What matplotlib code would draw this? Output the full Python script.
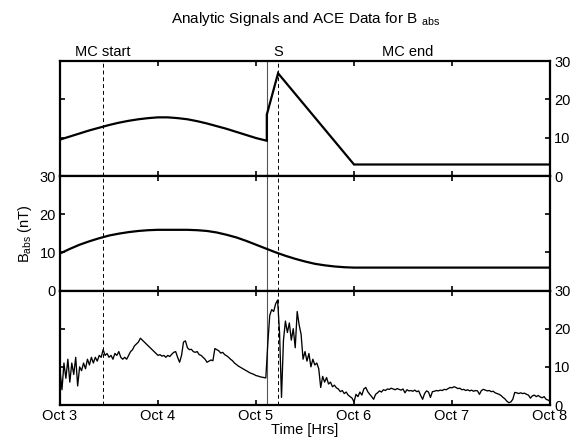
import numpy as np
import matplotlib
matplotlib.use("Agg")
import matplotlib.pyplot as plt

plt.rcParams['font.family'] = ['Liberation Sans', 'DejaVu Sans']
plt.rcParams['mathtext.fontset'] = 'custom'
plt.rcParams['mathtext.rm'] = 'Liberation Sans'
plt.rcParams['mathtext.it'] = 'Liberation Sans'

# ---------------- data (x in days of October) ----------------
day_ticks = [3, 4, 5, 6, 7, 8]
day_labels = ["Oct 3", "Oct 4", "Oct 5", "Oct 6", "Oct 7", "Oct 8"]
y_ticks = [0, 10, 20, 30]

mc_start = 3.435
shock_solid = 5.11
shock_dashed = 5.225
mc_end_label_x = 6.55

# top panel: analytic signal with shock
top_t = [3.0, 3.1, 3.2, 3.3, 3.4, 3.5, 3.6, 3.7, 3.8, 3.9, 4.0, 4.1, 4.2, 4.3,
         4.4, 4.5, 4.6, 4.7, 4.8, 4.9, 5.0, 5.11, 5.11, 5.225, 6.0, 8.0]
top_v = [9.5, 10.3, 11.1, 11.9, 12.6, 13.3, 13.9, 14.4, 14.8, 15.1, 15.3, 15.3,
         15.1, 14.8, 14.3, 13.7, 13.0, 12.3, 11.5, 10.7, 9.9, 9.2, 16.0, 26.8,
         3.0, 3.0]

# middle panel: smooth analytic signal
mid_t = [3.0, 3.1, 3.2, 3.3, 3.4, 3.5, 3.6, 3.7, 3.8, 3.9, 4.0, 4.1, 4.2, 4.3,
         4.4, 4.5, 4.6, 4.7, 4.8, 4.9, 5.0, 5.1, 5.2, 5.3, 5.4, 5.5, 5.6, 5.7,
         5.8, 5.9, 6.0, 8.0]
mid_v = [9.7, 10.9, 12.0, 12.9, 13.7, 14.4, 14.9, 15.3, 15.6, 15.8, 15.9, 15.9,
         15.9, 15.9, 15.8, 15.6, 15.2, 14.6, 13.9, 13.0, 12.0, 11.0, 10.0, 9.1,
         8.3, 7.6, 7.0, 6.6, 6.3, 6.1, 6.0, 6.0]

# bottom panel: ACE data, sampled every 0.02 day from Oct 3.00
ace_start = 3.0
ace_step = 0.02
ace_v = [
    9, 4, 11, 7, 12, 6, 11, 8, 12.5, 5, 10, 9, 11, 9.5, 12, 10.5, 12.5, 11, 12.5, 11.5, 13, 12.5,
    14.5, 13, 13.5, 12.5, 13, 12, 13.5, 13, 14, 12.5, 12, 12.5, 12, 13, 14, 14.5, 15.5, 16, 16.5,
    17.5, 17, 16.5, 16, 15.5, 15, 14.5, 14, 13.5, 13, 13.2, 12.8, 13, 12.5, 13, 12.7, 13.3, 13.8,
    14, 12.5, 11.2, 13, 16.5, 16.8, 15, 14.5, 14.6, 14, 13.8, 14, 13.2, 13, 12.5, 12, 11.2, 11.5,
    11.8, 11.6, 14.8, 14.5, 14.2, 13.6, 13.8, 13.2, 12.9, 12.5, 12, 11.6, 11.0, 10.6, 10.2, 9.9,
    9.6, 9.3, 9.0, 8.7, 8.4, 8.2, 8.0, 7.7, 7.6, 7.4, 7.3, 7.2, 7.1,
    16, 23.5, 25, 24.5, 26.5, 27.5, 19, 2, 17, 22, 19, 21.5, 17, 20, 15, 24.5, 21, 18.5, 12, 14,
    11.5, 13.5, 10, 12, 10.5, 11, 9.5, 4.6, 7.5, 6, 7.2, 5.5, 6, 4.8, 5.2, 4.5, 4.2, 3.5, 3.8, 3,
    3.4, 2.6, 2.2, 1.8, 0.8, 2.8, 2.2, 3.4, 2.6, 4.2, 4.6, 3.5, 2.8, 2.2, 1.5, 2.8, 3.2, 3.7, 3.4,
    4.0, 3.8, 4.2, 4.1, 4.4, 4.2, 4.0, 4.3, 4.1, 3.9, 4.2, 3.2, 4.0, 3.7, 3.8, 3.6, 3.9, 3.5, 3.7,
    2.5, 1.5, 3.0, 3.7, 3.4, 2.0, 3.5, 3.6, 3.8, 3.7, 3.9, 3.8, 4.1, 4.0, 4.3, 4.6, 4.5, 4.8, 4.6,
    4.3, 4.4, 4.0, 4.1, 3.8, 4.0, 3.7, 3.9, 3.6, 3.8, 3.7, 2.8, 3.8, 4.1, 3.9, 3.7, 3.8, 3.5, 3.6,
    3.2, 3.0, 2.8, 2.5, 2.0, 1.6, 1.0, 0.6, 0.8, 1.5, 3.3, 3.2, 3.0, 3.2, 3.0, 3.1, 2.8, 2.6, 1.8,
    2.4, 2.6, 2.2, 2.5, 2.1, 1.9, 2.2, 1.5, 1.3, 1.0,
]
ace_t = ace_start + ace_step * np.arange(len(ace_v))

# ---------------- figure ----------------
fig = plt.figure(figsize=(5.76, 4.44), dpi=100)
left, width = 0.1042, 0.8507
ax_top = fig.add_axes([left, 0.6036, width, 0.2590])
ax_mid = fig.add_axes([left, 0.3457, width, 0.2579])
ax_bot = fig.add_axes([left, 0.0878, width, 0.2579])

fs = 10.5
for ax in (ax_top, ax_mid, ax_bot):
    ax.set_xlim(3, 8)
    ax.set_ylim(0, 30)
    ax.set_xticks(day_ticks)
    ax.set_yticks(y_ticks)
    for s in ax.spines.values():
        s.set_linewidth(1.6)
    ax.tick_params(direction='in', length=3.5, width=1.2, top=True, right=True,
                   left=True, bottom=True, labelsize=fs, pad=3)
    ax.axvline(mc_start, color='black', lw=0.7, ls=(0, (4, 3)))
    ax.axvline(shock_solid, color='#555555', lw=0.8)
    ax.axvline(shock_dashed, color='black', lw=0.7, ls=(0, (4, 3)))

ax_top.plot(top_t, top_v, color='black', lw=1.6, solid_joinstyle='miter')
ax_mid.plot(mid_t, mid_v, color='black', lw=1.6)
ax_bot.plot(ace_t, ace_v, color='black', lw=0.95)

ax_top.tick_params(labelleft=False, labelright=True, labelbottom=False)
ax_mid.tick_params(labelleft=True, labelright=False, labelbottom=False)
ax_bot.tick_params(labelleft=False, labelright=True, labelbottom=True)
ax_bot.set_xticklabels(day_labels)

ax_mid.set_ylabel(r'B$_{\mathrm{abs}}$ (nT)', fontsize=fs, labelpad=4)
ax_bot.set_xlabel('Time [Hrs]', fontsize=fs, labelpad=0)

trans = ax_top.get_xaxis_transform()
ax_top.text(mc_start, 1.015, 'MC start', transform=trans, ha='center', va='bottom', fontsize=fs)
ax_top.text(shock_dashed, 1.015, 'S', transform=trans, ha='center', va='bottom', fontsize=fs)
ax_top.text(mc_end_label_x, 1.015, 'MC end', transform=trans, ha='center', va='bottom', fontsize=fs)

fig.text(0.53, 0.958, r'Analytic Signals and ACE Data for B $_{\mathrm{abs}}$',
         ha='center', va='center', fontsize=11)

fig.savefig('out.png', dpi=100)
